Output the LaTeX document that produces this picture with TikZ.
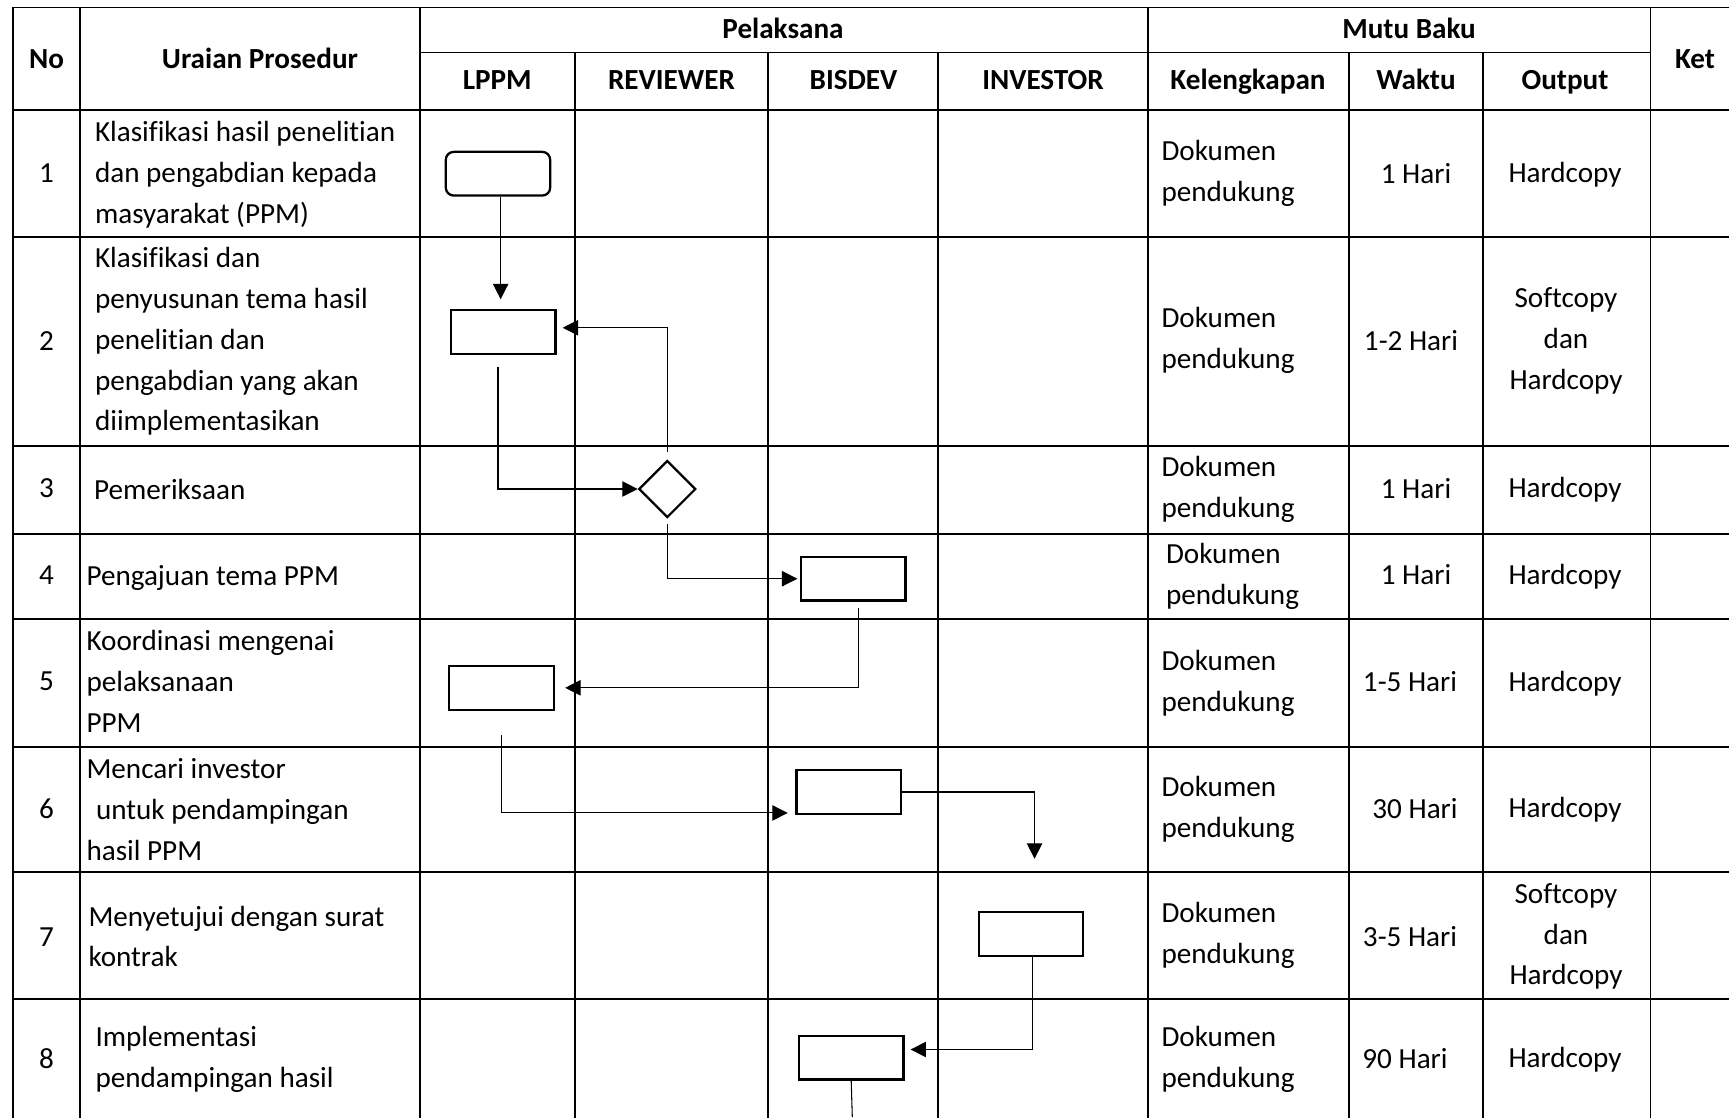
\documentclass[tikz,border=0pt]{standalone}
\usepackage{fontspec}
\setmainfont{Carlito}[Ligatures = {NoCommon}]
\usetikzlibrary{shapes.geometric}
\usetikzlibrary{arrows.meta}
\tikzset{garis/.style = {line width = 0.7pt, line cap = rect},
	kotak/.style = {draw, line width = 0.85pt, minimum width = 39.4pt, minimum height = 16.5pt, inner sep = 0pt},
	mulai/.style = {kotak, rounded corners = 3pt},
	cek/.style = {draw, diamond, aspect = 1, line width = 0.85pt, minimum width = 21.5pt, minimum height = 21.5pt, inner sep = 0pt},
	hubung/.style = {line width = 0.4pt},
	alur/.style = {hubung, -{Triangle[length = 5.8pt, width = 5.8pt]}},
	judul/.style = {anchor = base, font = \fontsize{11}{15.4}\selectfont\bfseries},
	isi/.style = {anchor = west, align = left, inner sep = 0pt}}

\begin{document}
\begin{tikzpicture}[x = 0.3774pt, y = -0.3774pt, font = \fontsize{11}{15.4}\selectfont]
		\clip (0,0) rectangle (1729,1117);
		\fill [white](0,0) rectangle (1729,1117);
		\foreach \y in {7.5,110.3,236.7,445.7,534,619,746.7,872.2,999}{
				\draw [garis](13,\y) -- (1729,\y);
			}
		\draw [garis](420,52.5) -- (1650.5,52.5);
		\foreach \x in {13,80,420,1147.8,1650.5}{
				\draw [garis](\x,7.5) -- (\x,1117);
			}
		\foreach \x in {574.7,768.3,938.4,1349,1483.3}{
				\draw [garis](\x,52.5) -- (\x,1117);
			}
		%
		\node [judul] (no) at (46.5,68.3){No
		};
		\node [judul] (uraian) at (260,68.3){Uraian Prosedur
		};
		\node [judul] (pelaksana) at (783,38.3){Pelaksana
		};
		\node [judul] (mutu) at (1409,38.3){Mutu Baku
		};
		\node [judul] (ket) at (1695,68.3){Ket
		};
		\node [judul] (lppm) at (497.3,89){LPPM
		};
		\node [judul] (reviewer) at (671.5,89){REVIEWER
		};
		\node [judul] (bisdev) at (853.5,89){BISDEV
		};
		\node [judul] (investor) at (1043,89){INVESTOR
		};
		\node [judul] (lengkap) at (1248,89){Kelengkapan
		};
		\node [judul] (waktu) at (1416,89){Waktu
		};
		\node [judul] (output) at (1565,89){Output
		};
		%
		\foreach \n/\y in {1/173.3,2/340.8,3/488.3,4/575,5/681.7,6/808.3,7/936.7,8/1058.3}{
				\node (nomor\n) at (46.5,\y){\n};
			}
		%
		\node [isi] (ur1) at (94.5,175){Klasifikasi hasil penelitian\\dan pengabdian kepada\\masyarakat (PPM)
		};
		\node [isi] (ur2) at (94.5,341.5){Klasifikasi dan\\penyusunan tema hasil\\penelitian dan\\pengabdian yang akan\\diimplementasikan
		};
		\node [isi] (ur3) at (93.5,489){Pemeriksaan
		};
		\node [isi] (ur4) at (86,578){Pengajuan tema PPM
		};
		\node [isi] (ur5) at (86,681.5){Koordinasi mengenai\\pelaksanaan\\PPM
		};
		\node [isi] (ur6) at (86,809.5){Mencari investor\\\hspace*{3.6pt}untuk pendampingan\\hasil PPM
		};
		\node [isi] (ur7) at (88,936.5){Menyetujui dengan surat\\kontrak
		};
		\node [isi] (ur8) at (95,1059.5){Implementasi\\pendampingan hasil
		};
		%
		\foreach \n/\y/\x in {1/173/1161,2/340.5/1161,3/489/1161,4/576/1165.5,5/683.5/1161,6/809/1161,7/935.5/1161,8/1059.5/1161}{
				\node [isi] (lengkap\n) at (\x,\y){Dokumen\\pendukung};
			}
		\foreach \n/\y/\x/\t in {1/173.3/1416/1 Hari,2/340.8/1411/1-2 Hari,3/488.3/1416/1 Hari,4/575/1416/1 Hari,5/681.7/1410/1-5 Hari,6/808.3/1415/30 Hari,7/936.7/1410/3-5 Hari,8/1058.3/1405/90 Hari}{
				\node (waktu\n) at (\x,\y){\t};
			}
		\foreach \n/\y in {1/175,3/490,4/577,5/684,6/810,8/1060}{
				\node (output\n) at (1565,\y){Hardcopy};
			}
		\node [align = center] (output2) at (1566,341){Softcopy\\dan\\Hardcopy
		};
		\node [align = center] (output7) at (1566,936.5){Softcopy\\dan\\Hardcopy
		};
		%
		\node [mulai] (klas) at (498,173.7){};
		\node [kotak] (susun) at (503.3,332){};
		\node [cek] (periksa) at (667.3,489){};
		\node [kotak] (aju) at (853.3,578.7){};
		\node [kotak] (koord) at (501.5,687.8){};
		\node [kotak] (cari) at (848.7,792){};
		\node [kotak] (setuju) at (1031.1,934.2){};
		\node [kotak] (impl) at (851.2,1057.7){};
		\coordinate (lanjut) at (852.3,1117);
		%
		\draw [alur, shorten >= 3.7pt]([xshift = 1pt]klas.south) -- ([xshift = 1pt]klas.south |- susun.north);
		\draw [alur, shorten <= 2.9pt, shorten >= 2.3pt](periksa.north) |- ([yshift = 1.6pt]susun.east);
		\draw [alur, shorten <= 4.4pt]([xshift = -2pt]susun.south) |- (periksa.west);
		\draw [alur, shorten <= 2.1pt, shorten >= 1pt](periksa.south) |- (aju.west);
		\draw [alur, shorten <= 2.3pt, shorten >= 3.9pt]([xshift = 1.8pt]aju.south) |- (koord.east);
		\draw [alur, shorten <= 9.2pt, shorten >= 2.9pt](koord.south) |- ([yshift = -7.9pt]cari.west);
		\draw [alur, shorten >= 19.8pt](cari.east) -| ([xshift = 1.3pt]setuju.north);
		\draw [alur, shorten >= 2.3pt]([xshift = 0.6pt]setuju.south) |- ([yshift = 3.1pt]impl.east);
		\draw [hubung](impl.south) -- (lanjut);
	\end{tikzpicture}
\end{document}
